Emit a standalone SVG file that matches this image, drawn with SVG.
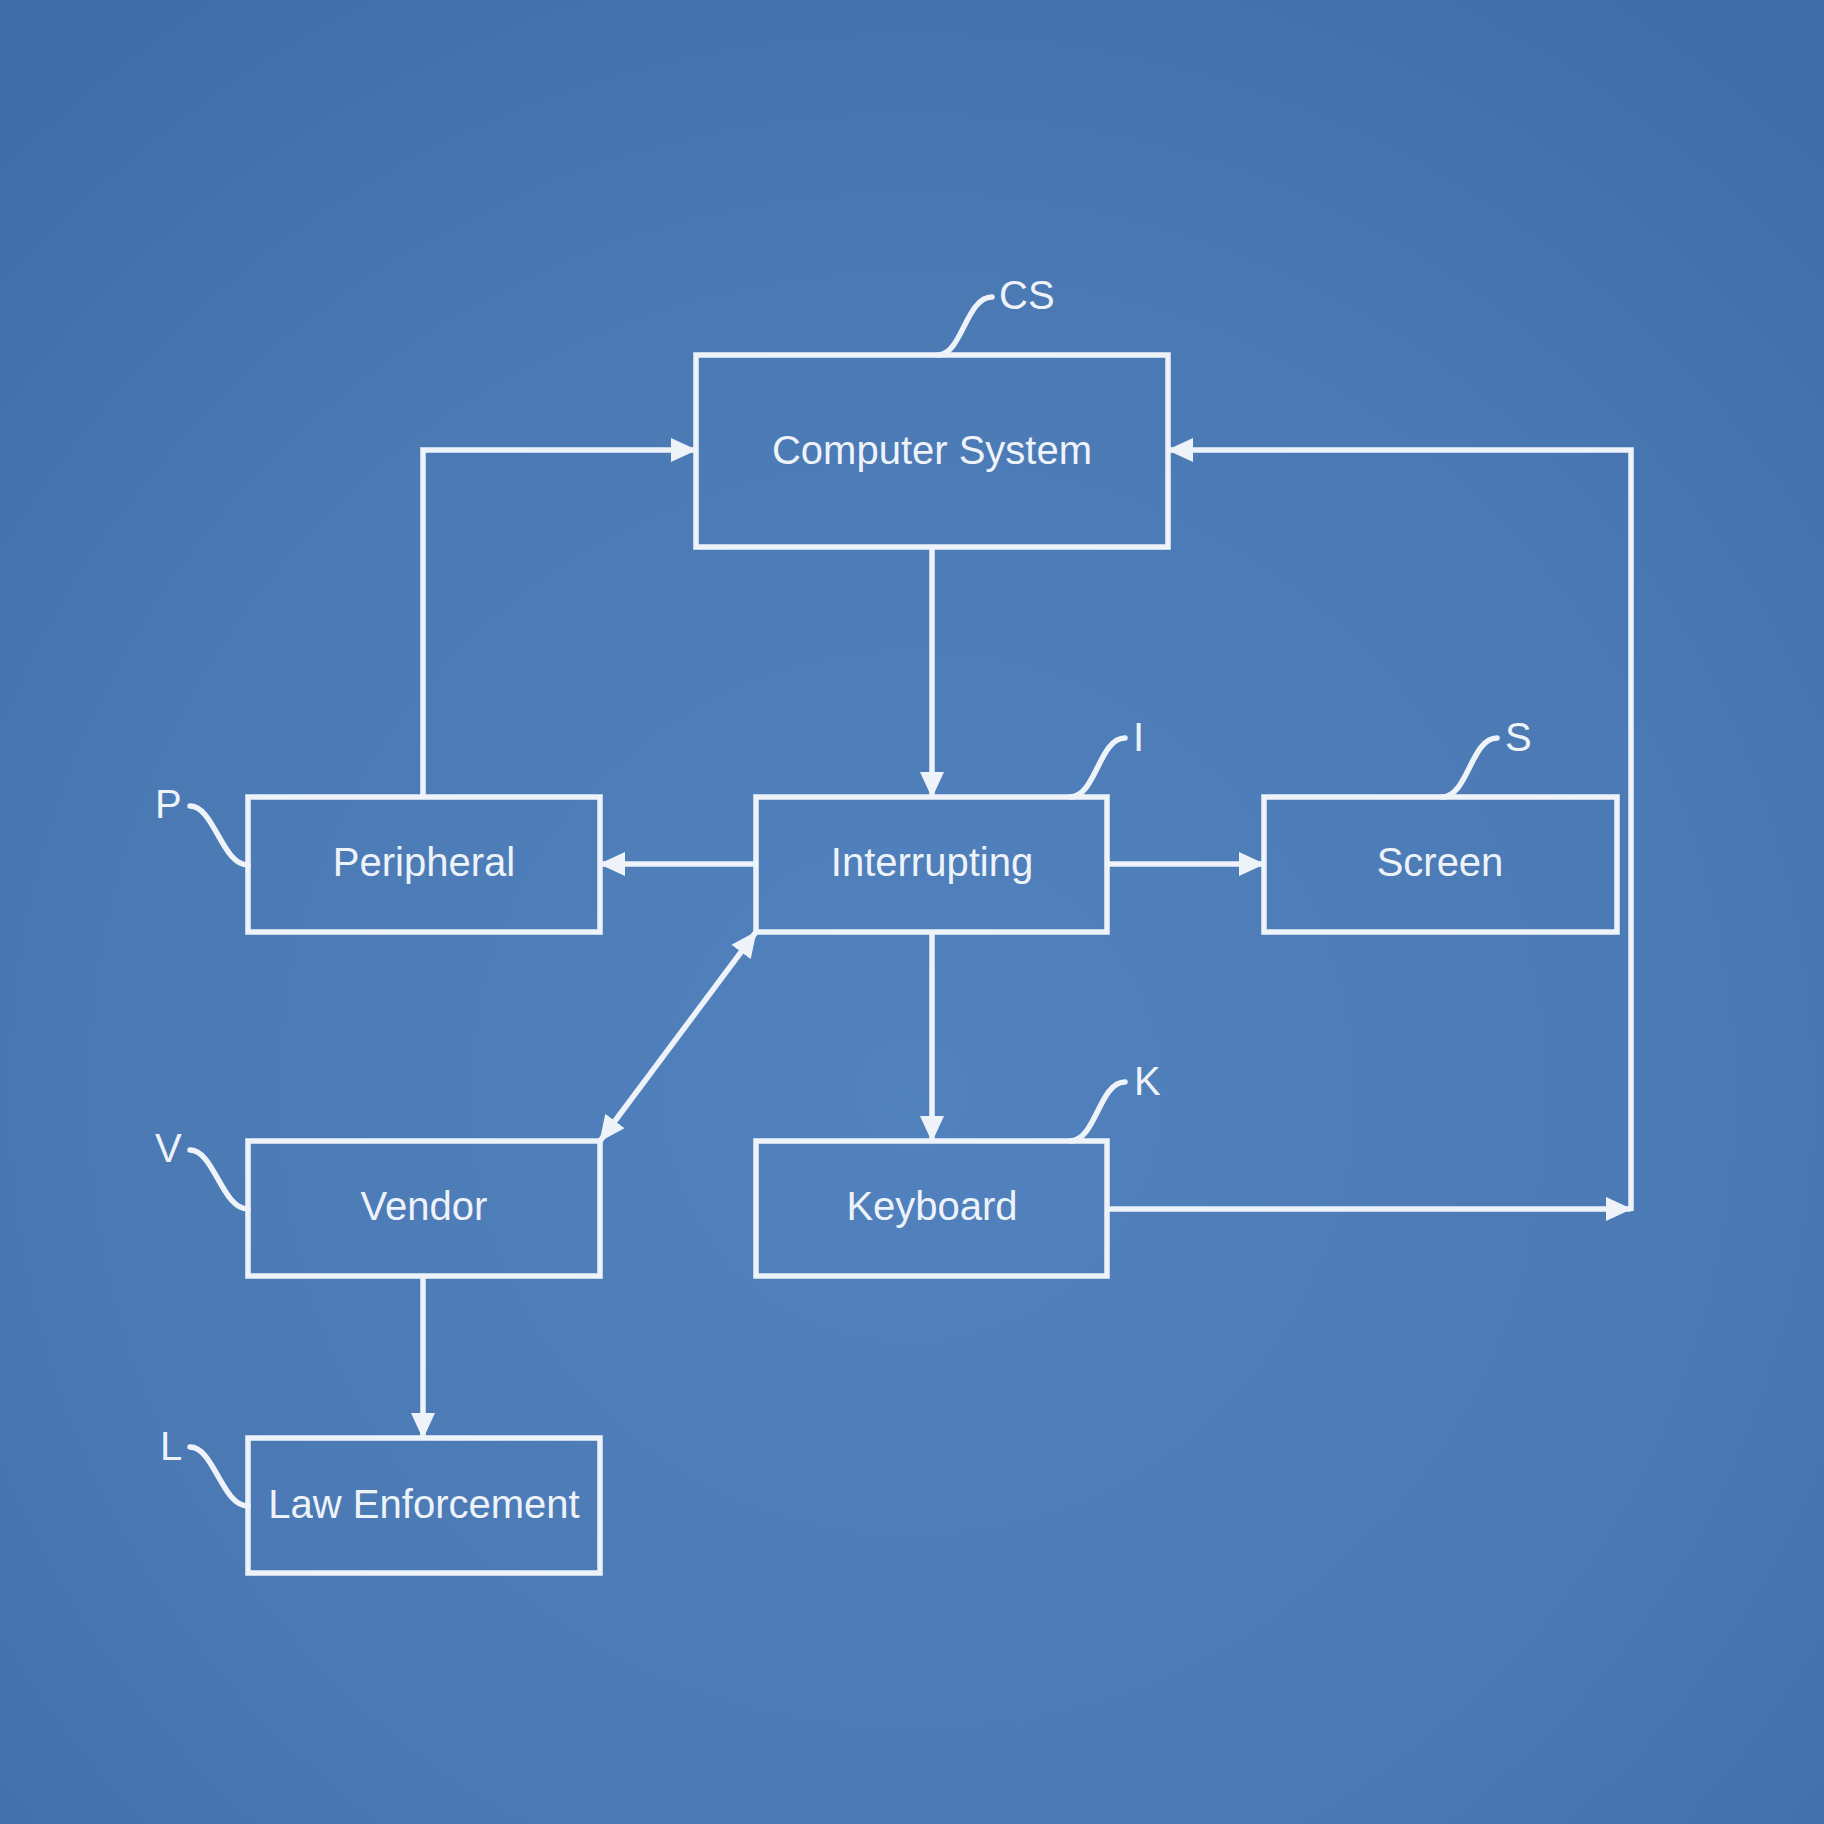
<svg xmlns="http://www.w3.org/2000/svg" width="1824" height="1824" viewBox="0 0 1824 1824">
<defs>
<radialGradient id="bg" cx="50%" cy="60%" r="75%">
<stop offset="0" stop-color="#5282bd"/>
<stop offset="0.6" stop-color="#4a79b4"/>
<stop offset="1" stop-color="#3f6ca8"/>
</radialGradient>
<marker id="arr" viewBox="0 0 26 24" refX="25" refY="12" markerWidth="26" markerHeight="24" markerUnits="userSpaceOnUse" orient="auto-start-reverse">
<path d="M0,0 L26,12 L0,24 z" fill="#eef3fa"/>
</marker>
<style>
.box{fill:none;stroke:#eef3fa;stroke-width:5.5}
.lbl{font-family:"Liberation Sans",Arial,sans-serif;font-size:40px;fill:#eef3fa;text-anchor:middle}
.ref{font-family:"Liberation Sans",Arial,sans-serif;font-size:40px;fill:#eef3fa}
.lead{fill:none;stroke:#eef3fa;stroke-width:5.5;stroke-linecap:round}
.con{fill:none;stroke:#eef3fa;stroke-width:5.5}
</style>
</defs>
<rect width="1824" height="1824" fill="url(#bg)"/>

<g id="connectors">
<path class="con" d="M932,547 V797" marker-end="url(#arr)"/>
<path class="con" d="M423,797 V450 H696" marker-end="url(#arr)"/>
<path class="con" d="M756,864 H600" marker-end="url(#arr)"/>
<path class="con" d="M1107,864 H1264" marker-end="url(#arr)"/>
<path class="con" d="M932,932 V1141" marker-end="url(#arr)"/>
<path class="con" d="M600,1141 L756,932" marker-start="url(#arr)" marker-end="url(#arr)"/>
<path class="con" d="M1107,1209 H1631" marker-end="url(#arr)"/>
<path class="con" d="M1631,1211 V450 H1168" marker-end="url(#arr)"/>
<path class="con" d="M423,1276 V1438" marker-end="url(#arr)"/>
</g>

<g id="node-cs">
<rect class="box" x="696" y="355" width="472" height="192"/>
<text class="lbl" x="932" y="464">Computer System</text>
<path class="lead" d="M992,297 C966,297 962,355 938,355"/>
<text class="ref" x="999" y="309">CS</text>
</g>

<g id="node-peripheral">
<rect class="box" x="248" y="797" width="352" height="135"/>
<text class="lbl" x="424" y="876">Peripheral</text>
<path class="lead" d="M190,806 C214,806 222,865 248,865"/>
<text class="ref" x="155" y="818">P</text>
</g>

<g id="node-interrupting">
<rect class="box" x="756" y="797" width="351" height="135"/>
<text class="lbl" x="932" y="876">Interrupting</text>
<path class="lead" d="M1125,738 C1099,738 1096,797 1070,797"/>
<text class="ref" x="1133" y="751">I</text>
</g>

<g id="node-screen">
<rect class="box" x="1264" y="797" width="353" height="135"/>
<text class="lbl" x="1440" y="876">Screen</text>
<path class="lead" d="M1497,738 C1471,738 1468,797 1442,797"/>
<text class="ref" x="1505" y="751">S</text>
</g>

<g id="node-vendor">
<rect class="box" x="248" y="1141" width="352" height="135"/>
<text class="lbl" x="424" y="1220">Vendor</text>
<path class="lead" d="M190,1150 C214,1150 222,1209 248,1209"/>
<text class="ref" x="155" y="1162">V</text>
</g>

<g id="node-keyboard">
<rect class="box" x="756" y="1141" width="351" height="135"/>
<text class="lbl" x="932" y="1220">Keyboard</text>
<path class="lead" d="M1125,1082 C1099,1082 1096,1141 1070,1141"/>
<text class="ref" x="1134" y="1095">K</text>
</g>

<g id="node-law">
<rect class="box" x="248" y="1438" width="352" height="135"/>
<text class="lbl" x="424" y="1518">Law Enforcement</text>
<path class="lead" d="M190,1447 C214,1447 222,1506 248,1506"/>
<text class="ref" x="160" y="1460">L</text>
</g>
</svg>
